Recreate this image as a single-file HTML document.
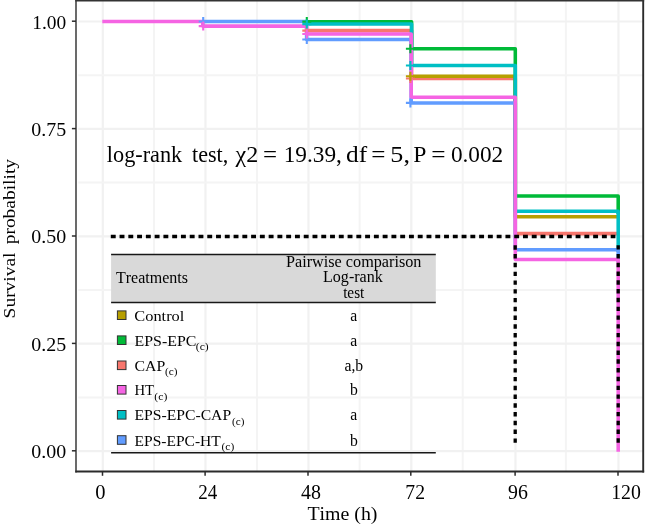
<!DOCTYPE html>
<html><head><meta charset="utf-8"><title>Survival</title>
<style>
html,body{margin:0;padding:0;background:#fff;}
svg{display:block;font-family:"Liberation Serif",serif;}
text{fill:#000;font-kerning:none;}
.t{opacity:.999;}
</style></head><body>
<svg width="645" height="526" viewBox="0 0 645 526">
<rect x="0" y="0" width="645" height="526" fill="#fff"/>

<line x1="102.8" x2="102.8" y1="0.6" y2="471.5" stroke="#f1f1f1" stroke-width="2.2"/>
<line x1="154.0" x2="154.0" y1="0.6" y2="471.5" stroke="#f4f4f4" stroke-width="2.0"/>
<line x1="205.5" x2="205.5" y1="0.6" y2="471.5" stroke="#f1f1f1" stroke-width="2.2"/>
<line x1="257.0" x2="257.0" y1="0.6" y2="471.5" stroke="#f4f4f4" stroke-width="2.0"/>
<line x1="308.5" x2="308.5" y1="0.6" y2="471.5" stroke="#f1f1f1" stroke-width="2.2"/>
<line x1="359.6" x2="359.6" y1="0.6" y2="471.5" stroke="#f4f4f4" stroke-width="2.0"/>
<line x1="411.3" x2="411.3" y1="0.6" y2="471.5" stroke="#f1f1f1" stroke-width="2.2"/>
<line x1="462.7" x2="462.7" y1="0.6" y2="471.5" stroke="#f4f4f4" stroke-width="2.0"/>
<line x1="515.5" x2="515.5" y1="0.6" y2="471.5" stroke="#f1f1f1" stroke-width="2.2"/>
<line x1="565.9" x2="565.9" y1="0.6" y2="471.5" stroke="#f4f4f4" stroke-width="2.0"/>
<line x1="618.5" x2="618.5" y1="0.6" y2="471.5" stroke="#f1f1f1" stroke-width="2.2"/>
<line x1="78.3" x2="643.2" y1="451.1" y2="451.1" stroke="#f1f1f1" stroke-width="2.2"/>
<line x1="78.3" x2="643.2" y1="397.4" y2="397.4" stroke="#f4f4f4" stroke-width="2.0"/>
<line x1="78.3" x2="643.2" y1="343.7" y2="343.7" stroke="#f1f1f1" stroke-width="2.2"/>
<line x1="78.3" x2="643.2" y1="290.0" y2="290.0" stroke="#f4f4f4" stroke-width="2.0"/>
<line x1="78.3" x2="643.2" y1="236.3" y2="236.3" stroke="#f1f1f1" stroke-width="2.2"/>
<line x1="78.3" x2="643.2" y1="182.6" y2="182.6" stroke="#f4f4f4" stroke-width="2.0"/>
<line x1="78.3" x2="643.2" y1="128.9" y2="128.9" stroke="#f1f1f1" stroke-width="2.2"/>
<line x1="78.3" x2="643.2" y1="75.2" y2="75.2" stroke="#f4f4f4" stroke-width="2.0"/>
<line x1="78.3" x2="643.2" y1="21.5" y2="21.5" stroke="#f1f1f1" stroke-width="2.2"/>
<path d="M306.60,30.60 H411.60 V78.50 H515.30 V233.60 H618.20" fill="none" stroke="#F8766D" stroke-width="3.55" stroke-linejoin="round"/>
<path d="M411.60,76.20 H515.30 V216.65 H618.20" fill="none" stroke="#B79F00" stroke-width="3.55" stroke-linejoin="round"/>
<path d="M306.60,21.65 H411.60 V48.80 H515.30 V195.90 H618.20 V214.00" fill="none" stroke="#00BA38" stroke-width="3.55" stroke-linejoin="round"/>
<path d="M306.60,24.05 H411.60 V65.50 H515.30 V211.25 H618.20 V252.00" fill="none" stroke="#00BFC4" stroke-width="3.55" stroke-linejoin="round"/>
<path d="M202.80,21.50 H306.60 V39.45 H411.20 V102.90 H515.30 V249.80 H618.20 V262.00" fill="none" stroke="#619CFF" stroke-width="3.55" stroke-linejoin="round"/>
<path d="M102.30,21.50 H202.80 V26.10 H306.60 V34.00 H411.20 V97.30 H515.30 V259.50 H618.20 V451.70" fill="none" stroke="#F564E3" stroke-width="3.55" stroke-linejoin="round"/>
<path d="M302.3,30.6H311.3M306.8,26.1V35.1" stroke="#F8766D" stroke-width="2.1" fill="none"/>
<path d="M405.9,78.5H414.9M410.4,74.0V83.0" stroke="#F8766D" stroke-width="2.1" fill="none"/>
<path d="M405.9,76.2H414.9M410.4,71.7V80.7" stroke="#B79F00" stroke-width="2.1" fill="none"/>
<path d="M302.3,21.6H311.3M306.8,17.1V26.1" stroke="#00BA38" stroke-width="2.1" fill="none"/>
<path d="M405.9,48.8H414.9M410.4,44.3V53.3" stroke="#00BA38" stroke-width="2.1" fill="none"/>
<path d="M302.3,24.1H311.3M306.8,19.6V28.6" stroke="#00BFC4" stroke-width="2.1" fill="none"/>
<path d="M405.9,65.5H414.9M410.4,61.0V70.0" stroke="#00BFC4" stroke-width="2.1" fill="none"/>
<path d="M198.7,21.5H207.7M203.2,17.0V26.0" stroke="#619CFF" stroke-width="2.1" fill="none"/>
<path d="M302.3,39.5H311.3M306.8,35.0V44.0" stroke="#619CFF" stroke-width="2.1" fill="none"/>
<path d="M405.9,102.9H414.9M410.4,98.4V107.4" stroke="#619CFF" stroke-width="2.1" fill="none"/>
<path d="M198.7,26.1H207.7M203.2,21.6V30.6" stroke="#F564E3" stroke-width="2.1" fill="none"/>
<path d="M302.3,34.0H311.3M306.8,29.5V38.5" stroke="#F564E3" stroke-width="2.1" fill="none"/>
<line x1="110.8" x2="615.4" y1="236.4" y2="236.4" stroke="#000" stroke-width="3.5" stroke-dasharray="4.9 3.87"/>
<line x1="515.2" x2="515.2" y1="245.3" y2="442.8" stroke="#000" stroke-width="3.3" stroke-dasharray="4.4 4.377"/>
<line x1="618.2" x2="618.2" y1="245.2" y2="442.9" stroke="#000" stroke-width="3.3" stroke-dasharray="4.4 4.377"/>
<path d="M76.0,472.4V0.0" stroke="#2b2b2b" stroke-width="1.4" fill="none"/>
<path d="M643.2,472.4V0.0" stroke="#2b2b2b" stroke-width="1.9" fill="none"/>
<path d="M75.3,471.5H644.1500000000001" stroke="#2b2b2b" stroke-width="1.9" fill="none"/>
<path d="M75.3,0.6H644.1500000000001" stroke="#333" stroke-width="1.9" fill="none"/>
<line x1="102.5" x2="102.5" y1="471.5" y2="475.8" stroke="#2b2b2b" stroke-width="1.5"/>
<line x1="205.1" x2="205.1" y1="471.5" y2="475.8" stroke="#2b2b2b" stroke-width="1.5"/>
<line x1="308.0" x2="308.0" y1="471.5" y2="475.8" stroke="#2b2b2b" stroke-width="1.5"/>
<line x1="410.8" x2="410.8" y1="471.5" y2="475.8" stroke="#2b2b2b" stroke-width="1.5"/>
<line x1="515.1" x2="515.1" y1="471.5" y2="475.8" stroke="#2b2b2b" stroke-width="1.5"/>
<line x1="618.0" x2="618.0" y1="471.5" y2="475.8" stroke="#2b2b2b" stroke-width="1.5"/>
<line x1="71.9" x2="76.0" y1="450.8" y2="450.8" stroke="#2b2b2b" stroke-width="1.5"/>
<line x1="71.9" x2="76.0" y1="343.4" y2="343.4" stroke="#2b2b2b" stroke-width="1.5"/>
<line x1="71.9" x2="76.0" y1="236.0" y2="236.0" stroke="#2b2b2b" stroke-width="1.5"/>
<line x1="71.9" x2="76.0" y1="128.6" y2="128.6" stroke="#2b2b2b" stroke-width="1.5"/>
<line x1="71.9" x2="76.0" y1="21.2" y2="21.2" stroke="#2b2b2b" stroke-width="1.5"/>
<g class="t">
<text x="31.24" y="458.1" font-size="19.7" textLength="34.92" lengthAdjust="spacingAndGlyphs">0.00</text>
<text x="31.24" y="350.7" font-size="19.7" textLength="34.94" lengthAdjust="spacingAndGlyphs">0.25</text>
<text x="31.24" y="243.3" font-size="19.7" textLength="34.92" lengthAdjust="spacingAndGlyphs">0.50</text>
<text x="31.24" y="135.9" font-size="19.7" textLength="34.94" lengthAdjust="spacingAndGlyphs">0.75</text>
<text x="32.20" y="28.5" font-size="19.7" textLength="33.94" lengthAdjust="spacingAndGlyphs">1.00</text>
<text x="95.32" y="499.1" font-size="20.1" textLength="10.26" lengthAdjust="spacingAndGlyphs">0</text>
<text x="198.26" y="499.1" font-size="20.1" textLength="19.03" lengthAdjust="spacingAndGlyphs">24</text>
<text x="300.91" y="499.1" font-size="20.1" textLength="19.95" lengthAdjust="spacingAndGlyphs">48</text>
<text x="405.30" y="499.1" font-size="20.1" textLength="19.68" lengthAdjust="spacingAndGlyphs">72</text>
<text x="508.06" y="499.1" font-size="20.1" textLength="19.83" lengthAdjust="spacingAndGlyphs">96</text>
<text x="611.16" y="499.1" font-size="20.1" textLength="29.69" lengthAdjust="spacingAndGlyphs">120</text>
<text x="307.44" y="519.5" font-size="19.5" textLength="70.03" lengthAdjust="spacingAndGlyphs">Time (h)</text>
<text transform="translate(15.15,318.4) scale(0.85,1) rotate(-90)" font-size="19.45">Survival</text>
<text transform="translate(15.15,244.3) scale(0.85,1) rotate(-90)" font-size="19.45">probability</text>
<text transform="translate(0,161.9) scale(1,1.012) translate(0,-161.9)" x="106.85" y="161.9" font-size="22.55" textLength="75.35" lengthAdjust="spacingAndGlyphs">log-rank</text>
<text transform="translate(0,161.9) scale(1,1.012) translate(0,-161.9)" x="191.98" y="161.9" font-size="22.55" textLength="36.31" lengthAdjust="spacingAndGlyphs">test,</text>
<text transform="translate(0,161.9) scale(1,1.012) translate(0,-161.9)" x="235.62" y="161.9" font-size="22.55" textLength="22.70" lengthAdjust="spacingAndGlyphs">χ2</text>
<text transform="translate(0,161.9) scale(1,1.012) translate(0,-161.9)" x="262.96" y="161.9" font-size="22.55" textLength="14.06" lengthAdjust="spacingAndGlyphs">=</text>
<text transform="translate(0,161.9) scale(1,1.012) translate(0,-161.9)" x="283.65" y="161.9" font-size="22.55" textLength="58.21" lengthAdjust="spacingAndGlyphs">19.39,</text>
<text transform="translate(0,161.9) scale(1,1.012) translate(0,-161.9)" x="346.08" y="161.9" font-size="22.55" textLength="21.12" lengthAdjust="spacingAndGlyphs">df</text>
<text transform="translate(0,161.9) scale(1,1.012) translate(0,-161.9)" x="371.35" y="161.9" font-size="22.55" textLength="14.18" lengthAdjust="spacingAndGlyphs">=</text>
<text transform="translate(0,161.9) scale(1,1.012) translate(0,-161.9)" x="390.38" y="161.9" font-size="22.55" textLength="19.56" lengthAdjust="spacingAndGlyphs">5,</text>
<text transform="translate(0,161.9) scale(1,1.012) translate(0,-161.9)" x="413.22" y="161.9" font-size="22.55" textLength="13.12" lengthAdjust="spacingAndGlyphs">P</text>
<text transform="translate(0,161.9) scale(1,1.012) translate(0,-161.9)" x="431.14" y="161.9" font-size="22.55" textLength="14.30" lengthAdjust="spacingAndGlyphs">=</text>
<text transform="translate(0,161.9) scale(1,1.012) translate(0,-161.9)" x="450.91" y="161.9" font-size="22.55" textLength="52.37" lengthAdjust="spacingAndGlyphs">0.002</text>
<rect x="111.1" y="254.5" width="324.7" height="48" fill="#d9d9d9"/>
<line x1="111.1" x2="435.8" y1="254.5" y2="254.5" stroke="#181818" stroke-width="1.5"/>
<line x1="111.1" x2="435.8" y1="302.6" y2="302.6" stroke="#181818" stroke-width="1.5"/>
<line x1="111.1" x2="435.8" y1="452.7" y2="452.7" stroke="#181818" stroke-width="1.5"/>
<text x="116.01" y="282.7" font-size="15.8" textLength="71.87" lengthAdjust="spacingAndGlyphs">Treatments</text>
<text x="286.03" y="266.6" font-size="15.8" textLength="135.41" lengthAdjust="spacingAndGlyphs">Pairwise comparison</text>
<text x="323.04" y="282.2" font-size="15.8" textLength="59.76" lengthAdjust="spacingAndGlyphs">Log-rank</text>
<text x="343.15" y="297.7" font-size="15.8" textLength="21.14" lengthAdjust="spacingAndGlyphs">test</text>
<rect x="117.4" y="310.9" width="8.6" height="8.6" fill="#B79F00" stroke="#333" stroke-width="1"/>
<text transform="translate(0,320.8) scale(1,0.96) translate(0,-320.8)" x="134.33" y="320.8" font-size="15.7" textLength="50.00" lengthAdjust="spacingAndGlyphs">Control</text>
<text x="353.8" y="320.8" font-size="15.7" text-anchor="middle">a</text>
<rect x="117.4" y="335.9" width="8.6" height="8.6" fill="#00BA38" stroke="#333" stroke-width="1"/>
<text transform="translate(0,345.8) scale(1,0.96) translate(0,-345.8)" x="134.54" y="345.8" font-size="15.7" textLength="61.83" lengthAdjust="spacingAndGlyphs">EPS-EPC</text>
<text x="195.79" y="350.0" font-size="10.9" textLength="12.92" lengthAdjust="spacingAndGlyphs">(c)</text>
<text x="353.8" y="345.8" font-size="15.7" text-anchor="middle">a</text>
<rect x="117.4" y="361.0" width="8.6" height="8.6" fill="#F8766D" stroke="#333" stroke-width="1"/>
<text transform="translate(0,370.9) scale(1,0.96) translate(0,-370.9)" x="134.55" y="370.9" font-size="15.7" textLength="30.78" lengthAdjust="spacingAndGlyphs">CAP</text>
<text x="165.11" y="375.09999999999997" font-size="10.9" textLength="12.49" lengthAdjust="spacingAndGlyphs">(c)</text>
<text x="353.8" y="370.9" font-size="15.7" text-anchor="middle">a,b</text>
<rect x="117.4" y="385.5" width="8.6" height="8.6" fill="#F564E3" stroke="#333" stroke-width="1"/>
<text transform="translate(0,395.4) scale(1,0.96) translate(0,-395.4)" x="134.48" y="395.4" font-size="15.7" textLength="19.57" lengthAdjust="spacingAndGlyphs">HT</text>
<text x="154.38" y="399.59999999999997" font-size="10.9" textLength="13.03" lengthAdjust="spacingAndGlyphs">(c)</text>
<text x="353.8" y="395.4" font-size="15.7" text-anchor="middle">b</text>
<rect x="117.4" y="410.5" width="8.6" height="8.6" fill="#00BFC4" stroke="#333" stroke-width="1"/>
<text transform="translate(0,420.4) scale(1,0.96) translate(0,-420.4)" x="134.55" y="420.4" font-size="15.7" textLength="96.58" lengthAdjust="spacingAndGlyphs">EPS-EPC-CAP</text>
<text x="232.01" y="424.59999999999997" font-size="10.9" textLength="12.38" lengthAdjust="spacingAndGlyphs">(c)</text>
<text x="353.8" y="420.4" font-size="15.7" text-anchor="middle">a</text>
<rect x="117.4" y="435.7" width="8.6" height="8.6" fill="#619CFF" stroke="#333" stroke-width="1"/>
<text transform="translate(0,445.6) scale(1,0.96) translate(0,-445.6)" x="134.55" y="445.6" font-size="15.7" textLength="86.20" lengthAdjust="spacingAndGlyphs">EPS-EPC-HT</text>
<text x="221.50" y="449.8" font-size="10.9" textLength="12.71" lengthAdjust="spacingAndGlyphs">(c)</text>
<text x="353.8" y="445.6" font-size="15.7" text-anchor="middle">b</text>
</g>
</svg></body></html>
